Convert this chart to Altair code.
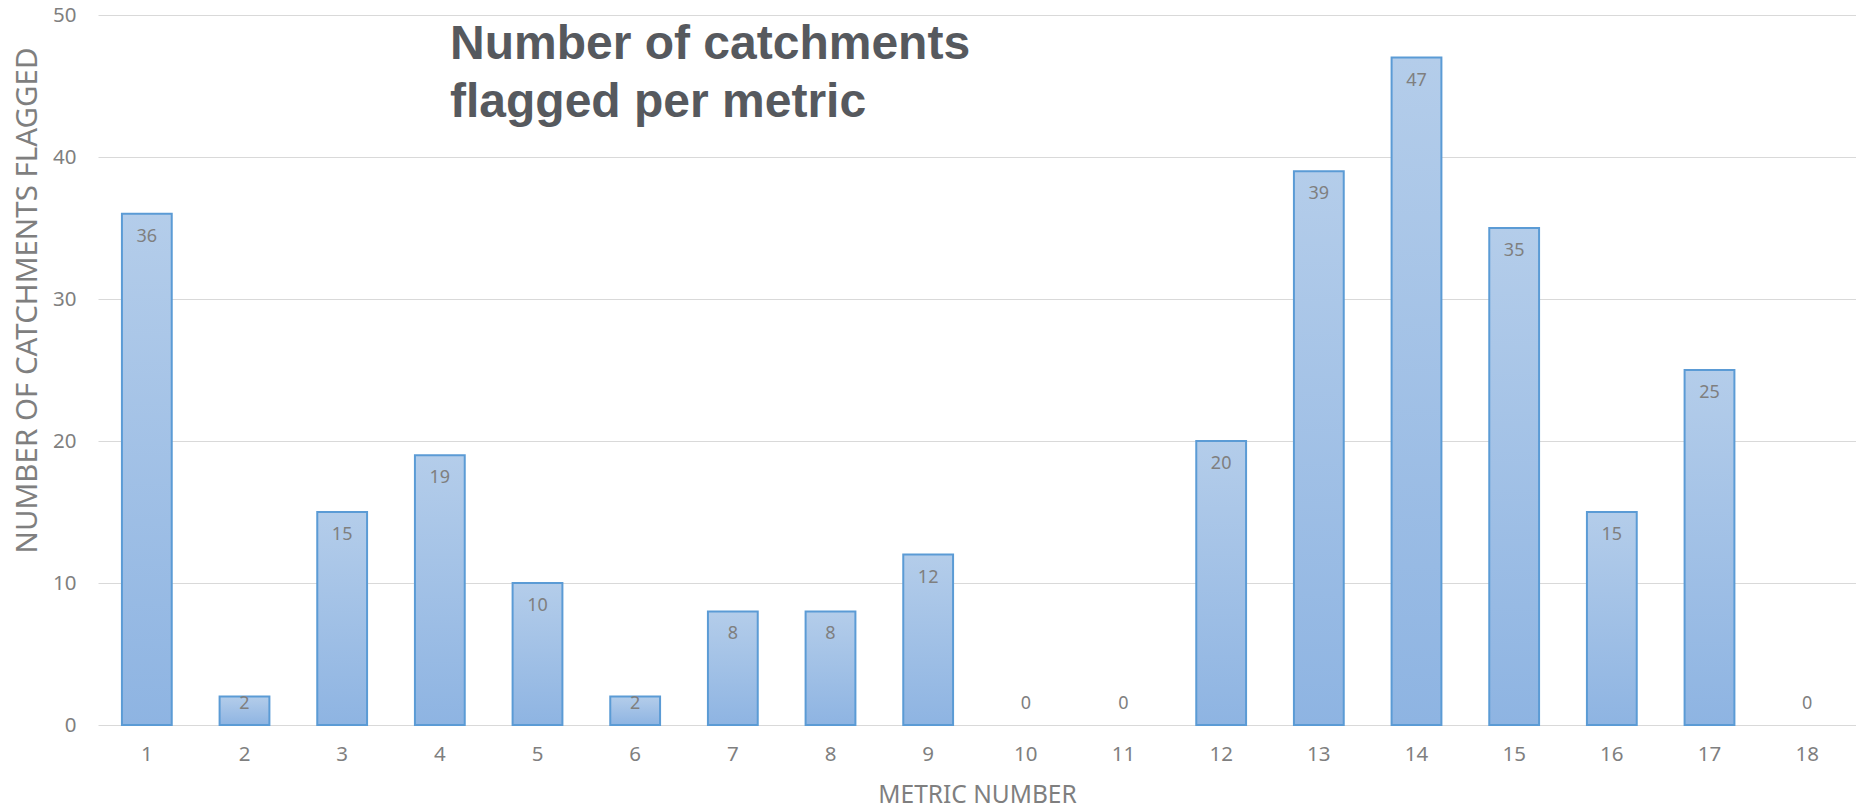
import altair as alt
import pandas as pd

metrics = [str(i) for i in range(1, 19)]
flagged = [36, 2, 15, 19, 10, 2, 8, 8, 12, 0, 0, 20, 39, 47, 35, 15, 25, 0]
y_ticks = [0, 10, 20, 30, 40, 50]

df = pd.DataFrame({"metric": metrics, "value": flagged})

FONT = "Noto Sans"
GRAY = "#7f7f7f"

x_enc = alt.X(
    "metric:N",
    sort=metrics,
    scale=alt.Scale(paddingInner=0.49, paddingOuter=0.245),
    axis=alt.Axis(
        title="METRIC NUMBER",
        labelAngle=0,
        labelFontSize=20.5,
        labelColor=GRAY,
        labelFont=FONT,
        labelPadding=19,
        ticks=False,
        domain=False,
        titleFont=FONT,
        titleFontSize=24.5,
        titleFontWeight="normal",
        titleColor=GRAY,
        titlePadding=19,
    ),
)

bars = (
    alt.Chart(df)
    .transform_filter("datum.value > 0")
    .mark_bar(
        color=alt.Gradient(
            gradient="linear",
            stops=[
                alt.GradientStop(color="#b4cdea", offset=0),
                alt.GradientStop(color="#8eb4e2", offset=1),
            ],
            x1=1, x2=1, y1=0, y2=1,
        ),
        stroke="#5b9bd5",
        strokeWidth=2,
    )
    .encode(
        x=x_enc,
        y=alt.Y(
            "value:Q",
            scale=alt.Scale(domain=[0, 50], nice=False),
            axis=alt.Axis(
                title="NUMBER OF CATCHMENTS FLAGGED",
                values=y_ticks,
                labelFontSize=20.5,
                labelColor=GRAY,
                labelFont=FONT,
                labelPadding=22,
                ticks=False,
                domain=False,
                gridColor="#d9d9d9",
                gridWidth=1.2,
                titleFont=FONT,
                titleFontSize=29.5,
                titleFontWeight="normal",
                titleColor=GRAY,
                titleX=-71,
                titleY=285,
                titleAngle=-90,
                titleBaseline="middle",
                titleAlign="center",
            ),
        ),
    )
)

labels = (
    alt.Chart(df)
    .transform_calculate(ly="max(datum.value, 3.1)")
    .mark_text(font=FONT, fontSize=18, color=GRAY, baseline="middle", dy=23)
    .encode(
        x=alt.X("metric:N", sort=metrics),
        y=alt.Y("ly:Q"),
        text=alt.Text("value:Q"),
    )
)

chart = (
    alt.layer(bars, labels)
    .properties(
        width=1758,
        height=710,
        autosize=alt.AutoSizeParams(type="none"),
        padding={"left": 90, "top": 7, "right": 0, "bottom": 85},
        background="white",
        title=alt.TitleParams(
            text=["Number of catchments", "flagged per metric"],
            anchor="start",
            frame="group",
            orient="top",
            dx=352,
            offset=-160,
            baseline="alphabetic",
            font="Liberation Sans",
            fontSize=48,
            fontWeight="bold",
            color="#56595e",
            lineHeight=58,
        ),
    )
    .configure_view(stroke=None)
)

chart.save("out.html", embed_options={"renderer": "svg", "actions": False})
